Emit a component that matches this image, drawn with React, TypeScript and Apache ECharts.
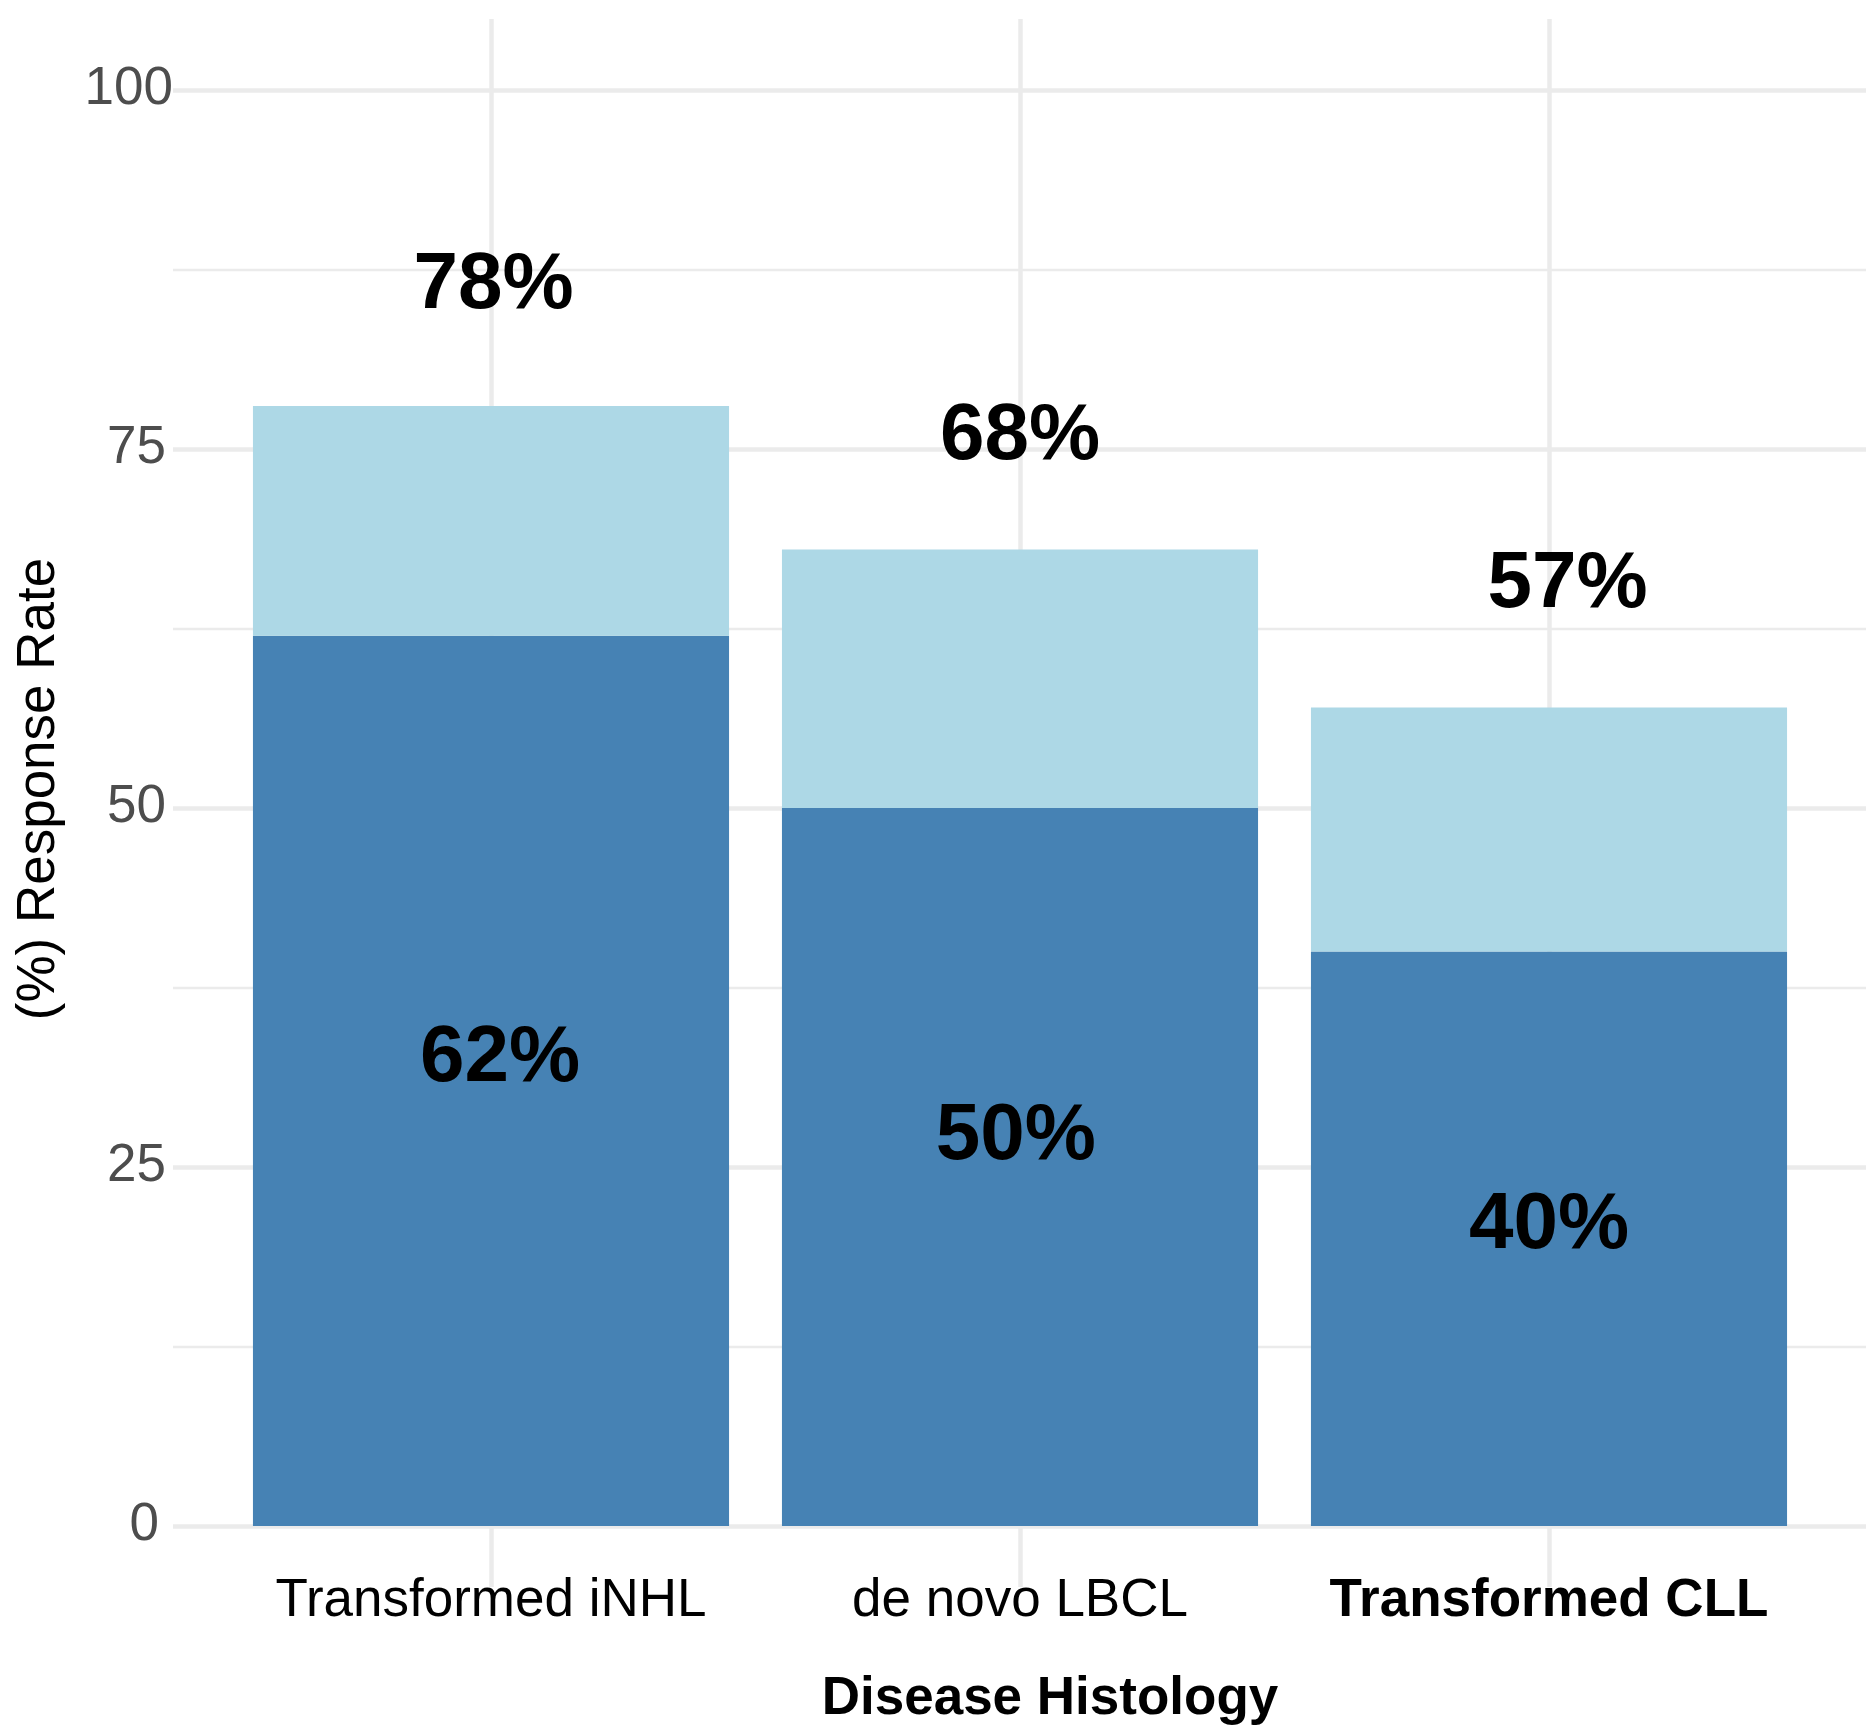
import React, { useEffect, useRef } from "react";
import * as echarts from "echarts";

// ---- data ----
const categories = ["Transformed iNHL", "de novo LBCL", "Transformed CLL"];
const orrValues = [78, 68, 57]; // overall response rate (total bar height)
const crValues = [62, 50, 40]; // complete response (dark segment)
const orrLabelAnchor = [86.7, 76.2, 65.9]; // y (in %) where the ORR annotation sits
const crLabelAnchor = [32.9, 27.5, 21.3]; // y (in %) where the CR annotation sits
const orrLabelNudge = [0.005, 0, 0.035]; // x nudge of the annotation, in category units
const crLabelNudge = [0.017, -0.008, 0];
const yTicks = [0, 25, 50, 75, 100];
const boldCategory = "Transformed CLL";

const FONT = "'Liberation Sans', Arial, Helvetica, sans-serif";
const GRID = "#EBEBEB";

export default function App() {
  const ref = useRef<HTMLDivElement>(null);
  useEffect(() => {
    document.body.style.margin = "0";
    const chart = echarts.init(ref.current!, null, { renderer: "svg" });
    const prValues = orrValues.map((v, i) => v - crValues[i]);
    const yMin = yTicks[0];
    const yMax = yTicks[yTicks.length - 1];
    const yStep = yTicks[1] - yTicks[0];

    const labelCommon = {
      show: true,
      position: "inside",
      color: "#000000",
      opacity: 1,
      fontSize: 80,
      fontWeight: "bold",
      fontFamily: FONT,
    };

    const option: any = {
      animation: false,
      backgroundColor: "#ffffff",
      grid: [
        { left: 491, top: 19, width: 1058, height: 1568 },
        { left: 173, top: 90, width: 1693, height: 1436 },
        { left: 226.5, top: 90, width: 1587, height: 1436 },
      ],
      xAxis: [
        {
          gridIndex: 0,
          type: "category",
          data: categories,
          boundaryGap: false,
          axisLine: { show: false },
          axisTick: { show: false },
          axisLabel: { show: false },
          splitLine: { show: true, interval: 0, lineStyle: { color: GRID, width: 4.5 } },
        },
        { gridIndex: 1, type: "value", min: 0, max: 1, show: false },
        {
          gridIndex: 2,
          type: "category",
          data: categories,
          axisLine: { show: false },
          axisTick: { show: false },
          splitLine: { show: false },
          axisLabel: {
            interval: 0,
            margin: 45,
            formatter: (v: string) => (v === boldCategory ? `{b|${v}}` : `{n|${v}}`),
            rich: {
              n: { fontSize: 53, fontFamily: FONT, color: "#000" },
              b: { fontSize: 53, fontFamily: FONT, fontWeight: "bold", color: "#000" },
            },
          },
        },
        { gridIndex: 2, type: "value", min: -0.5, max: 2.5, show: false },
      ],
      yAxis: [
        { gridIndex: 0, type: "value", min: 0, max: 1, show: false },
        {
          gridIndex: 1,
          type: "value",
          min: yMin,
          max: yMax,
          interval: yStep,
          axisLine: { show: false },
          axisTick: { show: false },
          splitLine: { show: true, lineStyle: { color: GRID, width: 4.5 } },
          minorTick: { show: false, splitNumber: 2 },
          minorSplitLine: { show: true, lineStyle: { color: GRID, width: 2.3 } },
          axisLabel: {
            margin: 0,
            padding: [0, 0, 10, 0],
            formatter: (v: number) => {
              const s = String(v);
              return `{r${s.length}|${s}}`;
            },
            rich: {
              r1: { fontSize: 53, fontFamily: FONT, color: "#4D4D4D", padding: [0, 14, 0, 0] },
              r2: { fontSize: 53, fontFamily: FONT, color: "#4D4D4D", padding: [0, 7, 0, 0] },
              r3: { fontSize: 53, fontFamily: FONT, color: "#4D4D4D", padding: [0, 0, 0, 0] },
            },
          },
        },
        { gridIndex: 2, type: "value", min: yMin, max: yMax, show: false },
      ],
      series: [
        {
          type: "bar",
          name: "CR",
          xAxisIndex: 2,
          yAxisIndex: 2,
          stack: "resp",
          barWidth: "90%",
          data: crValues,
          itemStyle: { color: "#4682B4" },
        },
        {
          type: "bar",
          name: "PR",
          xAxisIndex: 2,
          yAxisIndex: 2,
          stack: "resp",
          barWidth: "90%",
          data: prValues,
          itemStyle: { color: "#ADD8E6" },
        },
        {
          type: "scatter",
          xAxisIndex: 3,
          yAxisIndex: 2,
          symbolSize: 0,
          z: 10,
          itemStyle: { opacity: 1 },
          data: orrLabelAnchor.map((y, i) => [i + orrLabelNudge[i], y]),
          label: { ...labelCommon, formatter: (p: any) => `${orrValues[p.dataIndex]}%` },
        },
        {
          type: "scatter",
          xAxisIndex: 3,
          yAxisIndex: 2,
          symbolSize: 0,
          z: 10,
          itemStyle: { opacity: 1 },
          data: crLabelAnchor.map((y, i) => [i + crLabelNudge[i], y]),
          label: { ...labelCommon, formatter: (p: any) => `${crValues[p.dataIndex]}%` },
        },
      ],
      graphic: [
        {
          type: "text",
          x: 35,
          y: 789,
          rotation: Math.PI / 2,
          style: {
            text: "(%) Response Rate",
            fontSize: 53,
            fontFamily: FONT,
            fill: "#000",
            align: "center",
            verticalAlign: "middle",
          },
        },
        {
          type: "text",
          x: 1050,
          y: 1695,
          style: {
            text: "Disease Histology",
            fontSize: 53,
            fontWeight: "bold",
            fontFamily: FONT,
            fill: "#000",
            align: "center",
            verticalAlign: "middle",
          },
        },
      ],
    };
    chart.setOption(option);
    return () => chart.dispose();
  }, []);
  return <div ref={ref} style={{ width: 1870, height: 1725 }} />;
}
